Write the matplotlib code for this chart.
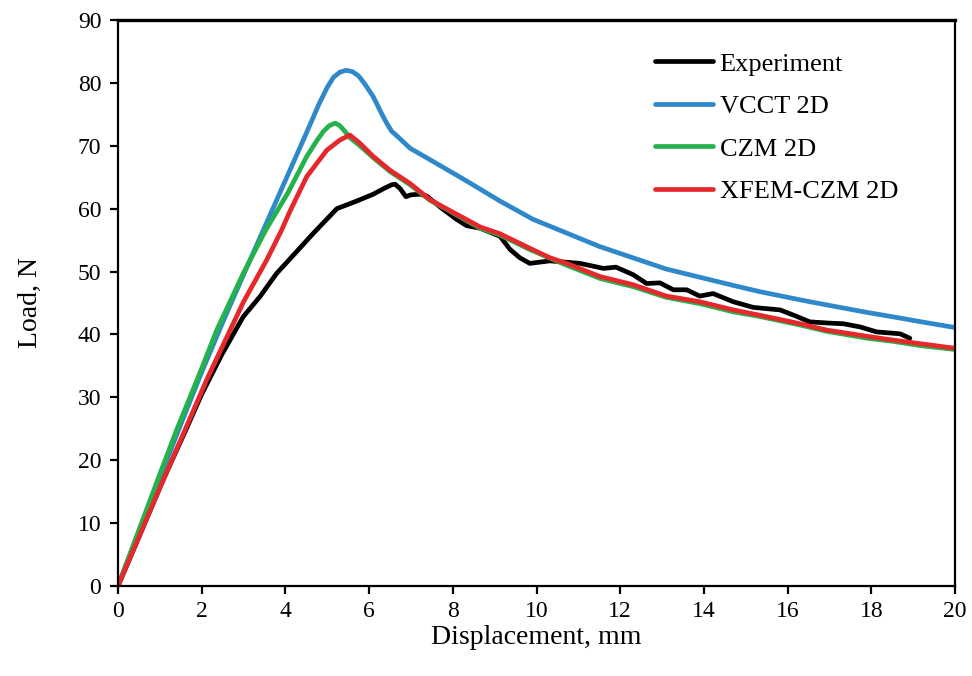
import matplotlib
matplotlib.use("Agg")
import matplotlib.pyplot as plt

# Experiment
exp_x = [0, 0.5, 1.08, 1.6, 2.0, 2.48, 2.99, 3.39, 3.79, 4.19, 4.67, 5.23, 5.70, 6.10,
         6.35, 6.54, 6.62, 6.74, 6.88, 7.0, 7.22, 7.38, 7.69, 8.09, 8.33, 8.65, 9.13,
         9.37, 9.6, 9.84, 10.32, 11.04, 11.6, 11.9, 12.31, 12.63, 12.95, 13.27, 13.59,
         13.9, 14.22, 14.7, 15.18, 15.5, 15.82, 16.13, 16.53, 17.0, 17.33, 17.73, 18.13,
         18.69, 18.92]
exp_y = [0, 7.8, 16.9, 24.5, 30.5, 36.8, 42.8, 46.0, 49.7, 52.6, 56.1, 60.0, 61.2, 62.3,
         63.2, 63.8, 63.9, 63.2, 61.9, 62.2, 62.3, 62.0, 60.3, 58.3, 57.3, 56.9, 55.6,
         53.5, 52.2, 51.3, 51.7, 51.3, 50.5, 50.7, 49.5, 48.1, 48.2, 47.1, 47.1,
         46.1, 46.5, 45.2, 44.3, 44.1, 43.9, 43.1, 42.0, 41.8, 41.7, 41.2, 40.4,
         40.1, 39.4]

# VCCT 2D
vcct_x = [0, 0.5, 1.0, 1.5, 2.0, 2.5, 3.0, 3.5, 4.0, 4.5, 4.8, 5.0, 5.15, 5.3, 5.45,
          5.6, 5.75, 5.9, 6.1, 6.3, 6.42, 6.54, 6.66, 6.98, 7.53, 8.33, 9.13, 9.92,
          11.5, 13.1, 14.7, 15.34, 16.3, 16.93, 17.9, 18.52, 19.2, 20]
vcct_y = [0, 8.7, 17.2, 25.7, 34.0, 41.9, 49.5, 57.0, 64.5, 72.0, 76.6, 79.3, 80.9, 81.7, 82.0,
          81.8, 81.1, 79.8, 77.8, 75.1, 73.6, 72.3, 71.6, 69.6, 67.5, 64.4, 61.2, 58.3,
          54.0, 50.4, 47.8, 46.8, 45.5, 44.7, 43.5, 42.8, 42.0, 41.1]

# CZM 2D
czm_x = [0, 0.5, 1.0, 1.4, 2.0, 2.36, 3.0, 3.53, 4.05, 4.51, 4.75, 4.91, 5.05, 5.19,
         5.30, 5.42, 5.54, 5.78, 6.10, 6.50, 6.98, 7.46, 7.93, 8.65, 9.13, 9.84, 10.72,
         11.52, 12.31, 13.1, 13.9, 14.7, 15.3, 16.3, 16.93, 17.9, 18.52, 19.2, 20]
czm_y = [0, 8.9, 17.8, 24.8, 34.6, 40.7, 49.8, 56.6, 62.4, 68.3, 70.8, 72.3, 73.2, 73.6,
         73.2, 72.3, 71.3, 70.0, 68.1, 65.9, 63.8, 61.3, 59.6, 56.9, 55.8, 53.5, 51.0,
         48.9, 47.6, 45.9, 44.9, 43.6, 42.9, 41.5, 40.5, 39.4, 38.9, 38.2, 37.6]

# XFEM-CZM 2D
xfem_x = [0, 0.5, 1.0, 1.6, 2.12, 2.68, 3.0, 3.55, 3.91, 4.11, 4.51, 4.99, 5.30, 5.54,
          5.78, 6.10, 6.50, 6.98, 7.46, 7.93, 8.65, 9.13, 9.84, 10.32, 10.72, 11.52,
          12.31, 13.1, 13.9, 14.7, 15.3, 16.3, 16.93, 17.9, 18.52, 19.2, 20]
xfem_y = [0, 7.8, 15.6, 24.8, 32.8, 40.7, 45.2, 51.8, 56.6, 59.6, 65.1, 69.3, 70.9, 71.7,
          70.4, 68.3, 66.1, 64.0, 61.4, 59.7, 57.1, 56.0, 53.7, 52.2, 51.3, 49.2,
          47.9, 46.1, 45.2, 43.9, 43.1, 41.7, 40.7, 39.7, 39.1, 38.5, 37.8]

x_ticks = list(range(0, 21, 2))
y_ticks = list(range(0, 91, 10))

plt.rcParams['font.family'] = ['Liberation Serif', 'DejaVu Serif']

fig = plt.figure(figsize=(9.72, 6.76), dpi=100)
ax = fig.add_axes([118 / 972, 1 - 586 / 676, (955 - 118) / 972, (586 - 20) / 676])

lw = 3.4
ax.plot(exp_x, exp_y, color='black', lw=lw, label='Experiment', solid_capstyle='round')
ax.plot(vcct_x, vcct_y, color='#2f88c9', lw=lw, label='VCCT 2D', solid_capstyle='round')
ax.plot(czm_x, czm_y, color='#25b24c', lw=lw, label='CZM 2D', solid_capstyle='round')
ax.plot(xfem_x, xfem_y, color='#e5282b', lw=lw, label='XFEM-CZM 2D', solid_capstyle='round')

ax.set_xlim(0, 20)
ax.set_ylim(0, 90)
ax.set_xticks(x_ticks)
ax.set_yticks(y_ticks)
ax.tick_params(direction='out', length=6, width=1.6, labelsize=17, pad=6)
ax.tick_params(axis='x', pad=5)
for s in ax.spines.values():
    s.set_linewidth(1.6)
ax.spines['top'].set_linewidth(2.4)

ax.set_xlabel('Displacement, mm', fontsize=20, labelpad=2)
ax.set_ylabel('Load, N', fontsize=20, labelpad=25)

ax.legend(loc='upper left', bbox_to_anchor=(0.6416, 0.943), frameon=False,
          fontsize=19, handlelength=2.2, handletextpad=0.25, labelspacing=0.72,
          borderpad=0, borderaxespad=0)

fig.savefig('out.png', dpi=100)
